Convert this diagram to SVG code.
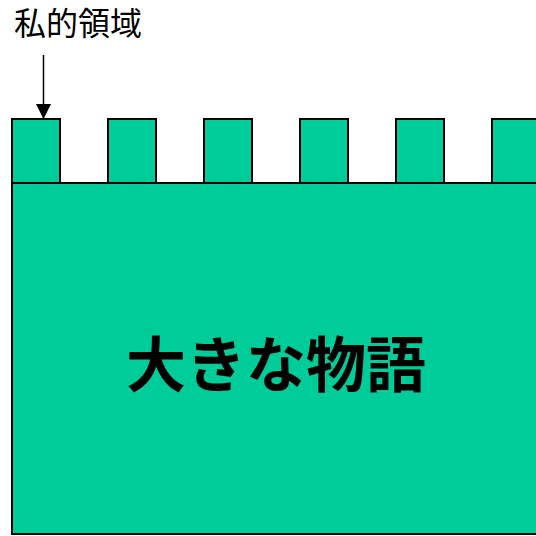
<svg xmlns="http://www.w3.org/2000/svg" width="536" height="536" viewBox="0 0 536 536">
<style>
.blk{fill:#00CC99;stroke:#000;stroke-width:2}
.t{font-family:"Liberation Sans","Noto Sans CJK JP",sans-serif;fill:#000}
</style>
<defs>
<marker id="ah" markerWidth="16" markerHeight="16" refX="15" refY="8" orient="auto" markerUnits="userSpaceOnUse">
<path d="M0,0.5 L15,8 L0,15.5 Z" fill="#000"/>
</marker>
</defs>
<rect width="536" height="536" fill="#fff"/>
<g id="big">
<rect class="blk" x="12" y="183" width="540" height="351"/>
<text class="t" x="276" y="387" font-size="60" font-weight="bold" text-anchor="middle">大きな物語</text>
</g>
<g id="p1"><rect class="blk" x="12" y="119" width="48" height="64"/></g>
<g id="p2"><rect class="blk" x="108" y="119" width="48" height="64"/></g>
<g id="p3"><rect class="blk" x="204" y="119" width="48" height="64"/></g>
<g id="p4"><rect class="blk" x="300" y="119" width="48" height="64"/></g>
<g id="p5"><rect class="blk" x="396" y="119" width="48" height="64"/></g>
<g id="p6"><rect class="blk" x="492" y="119" width="48" height="64"/></g>
<g id="label"><text class="t" x="14" y="35" font-size="32">私的領域</text></g>
<g id="connectors">
<line x1="43.5" y1="55" x2="43.5" y2="119" stroke="#000" stroke-width="1.5" marker-end="url(#ah)"/>
</g>
</svg>
